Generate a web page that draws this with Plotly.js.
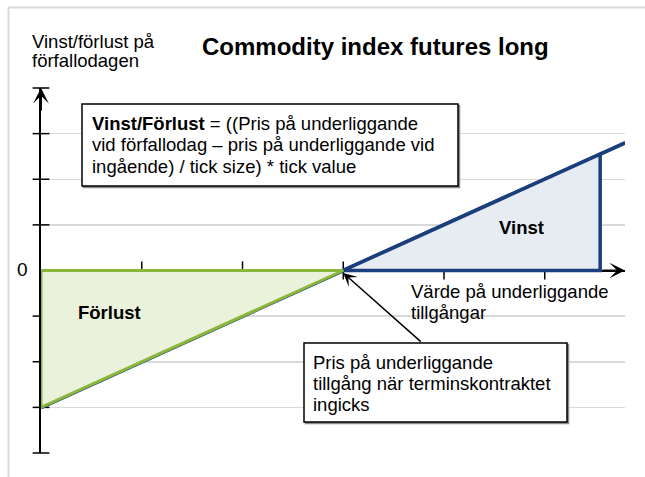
<!DOCTYPE html>
<html>
<head>
<meta charset="utf-8">
<script src="https://cdn.plot.ly/plotly-3.0.1.min.js"></script>
<style>html,body{margin:0;padding:0;background:#fff;}#chart{width:645px;height:477px;}</style>
</head>
<body>
<div id="chart"></div>
<script>
// ---- data ----
const lossX = [0, 3, 0, 0];
const lossY = [0, 0, -3, 0];
const gainX = [3, 5.55, 5.55, 3];
const gainY = [0, 0, 2.55, 0];
const payoffX = [0, 5.8];
const payoffY = [-3, 2.8];
const xTickVals = [1, 2, 3, 4, 5];
const yTickVals = [-4, -3, -2, -1, 1, 2, 3, 4];

const titleText = 'Commodity index futures long';
const yLabelLines = ['Vinst/förlust på', 'förfallodagen'];
const formulaLines = ['<b>Vinst/Förlust</b> = ((Pris på underliggande',
                      'vid förfallodag – pris på underliggande vid',
                      'ingående) / tick size) * tick value'];
const pointerLines = ['Pris på underliggande', 'tillgång när terminskontraktet', 'ingicks'];
const xLabelLines = ['Värde på underliggande', 'tillgångar'];
const gainLabel = 'Vinst';
const lossLabel = 'Förlust';
const zeroLabel = '0';

// ---- layout helpers (pixel -> axis / paper units) ----
const ML = 41, MT = 88, PW = 584, PH = 365;
const X = p => (p - ML) / 100.75;
const Y = q => (270.5 - q) / 45.625;
const PX = p => (p - ML) / PW;
const PY = q => (MT + PH - q) / PH;

const NAVY = '#1A3F7C';
const GREEN = '#8AB63A';
const FONT = 'Liberation Sans, Arial, sans-serif';
const FS = 18.5;

const traces = [
  {x: xTickVals, y: xTickVals.map(() => 0), mode: 'markers', cliponaxis: false, hoverinfo: 'skip',
   marker: {symbol: 'line-ns', size: 13, line: {color: '#000', width: 1.5}}},
  {x: yTickVals.map(() => 0), y: yTickVals, mode: 'markers', cliponaxis: false, hoverinfo: 'skip',
   marker: {symbol: 'line-ew', size: 12, line: {color: '#000', width: 1.5}}},
  {x: payoffX, y: payoffY, mode: 'lines', line: {color: NAVY, width: 4}, hoverinfo: 'skip'},
  {x: gainX, y: gainY, mode: 'lines', fill: 'toself', fillcolor: '#E7EBF2',
   line: {color: NAVY, width: 3.5}, hoverinfo: 'skip'},
  {x: lossX, y: lossY, mode: 'lines', fill: 'toself', fillcolor: '#EBF2DC',
   line: {color: GREEN, width: 3}, hoverinfo: 'skip'}
];

function txt(text, px, py, opts) {
  return Object.assign({
    text: text, x: PX(px), y: PY(py), xref: 'paper', yref: 'paper', showarrow: false,
    xanchor: 'left', yanchor: 'middle', align: 'left',
    font: {family: FONT, size: FS, color: '#000'}
  }, opts || {});
}

const annotations = [];
annotations.push(txt('<b>' + titleText + '</b>', 375, 47, {xanchor: 'center', font: {family: FONT, size: 24, color: '#000'}}));
yLabelLines.forEach((t, i) => annotations.push(txt(t, 30, 41.5 + i * 18.5)));
annotations.push(txt(zeroLabel, 30, 269, {xanchor: 'right', font: {family: FONT, size: 19, color: '#000'}}));
formulaLines.forEach((t, i) => annotations.push(txt(t, 90, 123 + i * 21.8)));
pointerLines.forEach((t, i) => annotations.push(txt(t, 311, 362 + i * 21)));
xLabelLines.forEach((t, i) => annotations.push(txt(t, 409, 291.5 + i * 21)));
annotations.push(txt('<b>' + gainLabel + '</b>', 521.5, 227, {xanchor: 'center'}));
annotations.push(txt('<b>' + lossLabel + '</b>', 109, 312, {xanchor: 'center'}));

// axis arrows
annotations.push({x: X(625), y: 0, xref: 'x', yref: 'y', text: '', showarrow: true,
  ax: -24, ay: 0, arrowhead: 3, arrowsize: 1.3, arrowwidth: 2, arrowcolor: '#000', standoff: 0});
annotations.push({x: 0, y: Y(88), xref: 'x', yref: 'y', text: '', showarrow: true,
  ax: 0, ay: 24, arrowhead: 3, arrowsize: 1.3, arrowwidth: 2, arrowcolor: '#000', standoff: 0});
// pointer arrow
annotations.push({x: 3, y: Y(273), xref: 'x', yref: 'y', text: '', showarrow: true,
  ax: 79, ay: 70, arrowhead: 3, arrowsize: 1.5, arrowwidth: 1.5, arrowcolor: '#000', standoff: 0});

function box(x0, y0, x1, y1) {
  return [
    {type: 'rect', xref: 'x', yref: 'y', x0: X(x0 + 1.5), x1: X(x1 + 1.5), y0: Y(y0 + 1.5), y1: Y(y1 + 1.5),
     line: {color: '#8c8c8c', width: 1.5}, fillcolor: '#8c8c8c', layer: 'above'},
    {type: 'rect', xref: 'x', yref: 'y', x0: X(x0), x1: X(x1), y0: Y(y0), y1: Y(y1),
     line: {color: '#000', width: 1.5}, fillcolor: '#fff', layer: 'above'}
  ];
}

const shapes = [
  {type: 'line', xref: 'paper', yref: 'paper', x0: PX(8), x1: PX(645), y0: PY(7.5), y1: PY(7.5),
   line: {color: '#D9D9D9', width: 2}},
  {type: 'line', xref: 'paper', yref: 'paper', x0: PX(8.5), x1: PX(8.5), y0: PY(7.5), y1: PY(477),
   line: {color: '#D9D9D9', width: 2}}
].concat(box(82, 104, 458, 186)).concat(box(304, 343, 567, 422));

const layout = {
  width: 645, height: 477,
  margin: {l: ML, r: 645 - ML - PW, t: MT, b: 477 - MT - PH, pad: 0},
  paper_bgcolor: '#fff', plot_bgcolor: '#fff',
  showlegend: false,
  xaxis: {range: [0, PW / 100.75], showgrid: false, zeroline: false, showline: false,
          showticklabels: false, ticks: '', fixedrange: true},
  yaxis: {range: [-4, 4], tick0: 0, dtick: 1, showgrid: true, gridcolor: '#D9D9D9', gridwidth: 1.5,
          zeroline: true, zerolinecolor: '#000', zerolinewidth: 2,
          showline: true, linecolor: '#000', linewidth: 2,
          showticklabels: false, ticks: '', fixedrange: true},
  annotations: annotations,
  shapes: shapes
};

Plotly.newPlot('chart', traces, layout, {staticPlot: true, displayModeBar: false});
</script>
</body>
</html>
